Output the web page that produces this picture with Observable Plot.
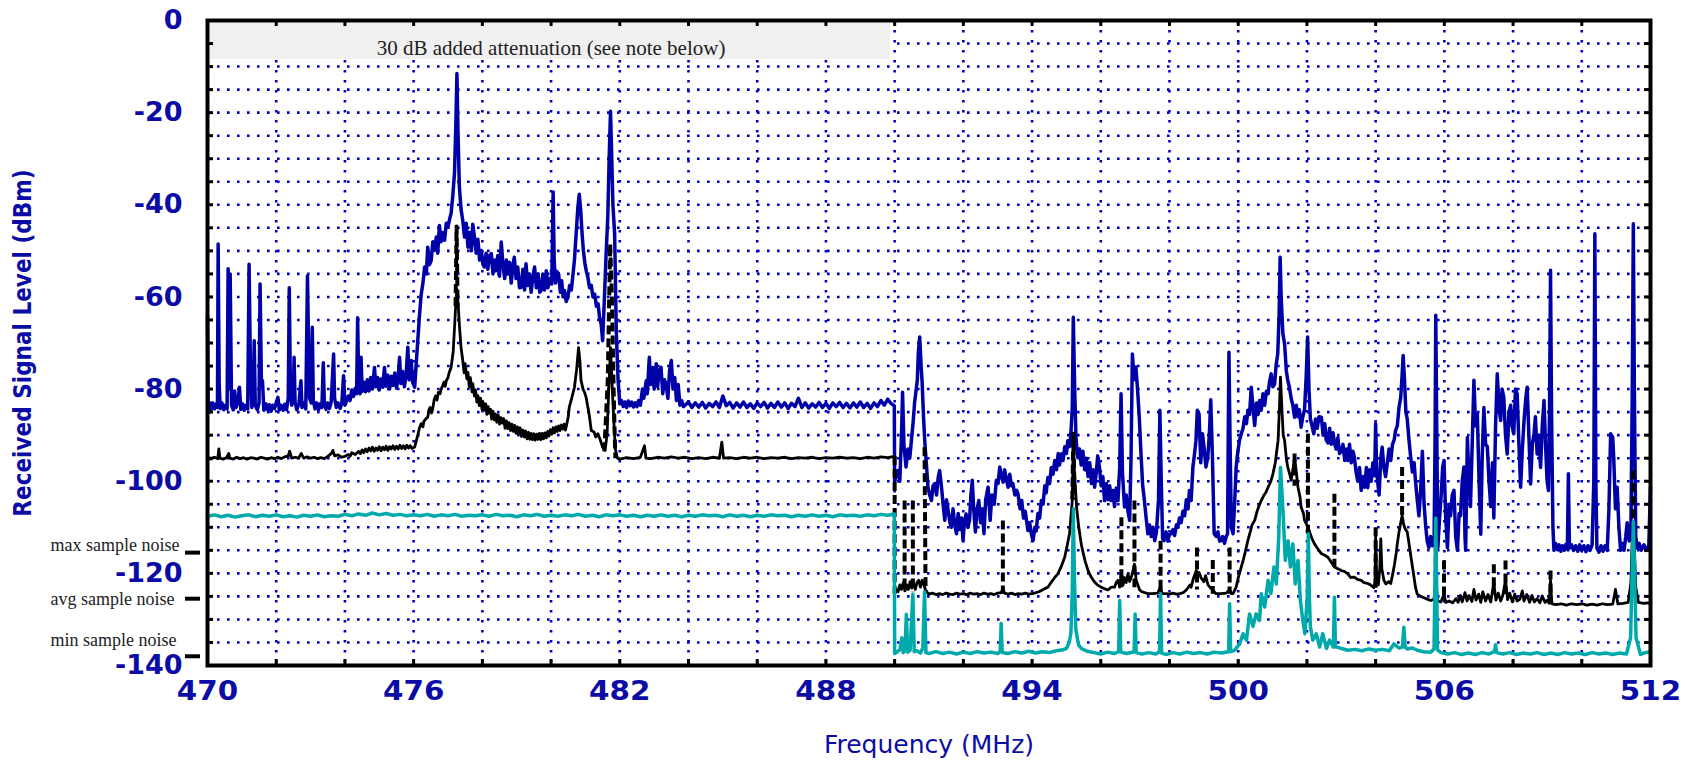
<!DOCTYPE html>
<html><head><meta charset="utf-8">
<script src="https://cdn.jsdelivr.net/npm/d3@7"></script>
<script src="https://cdn.jsdelivr.net/npm/@observablehq/plot@0.6"></script>
<style>html,body{margin:0;padding:0;background:#fff;}#chart svg{display:block}</style>
</head><body><div id="chart"></div>
<script>
// ---- tick / grid values ----
const xTickValues = [470, 476, 482, 488, 494, 500, 506, 512];
const xGridValues = [470, 472, 474, 476, 478, 480, 482, 484, 486, 488, 490, 492, 494, 496, 498, 500, 502, 504, 506, 508, 510, 512];
const yTickValues = [0, -20, -40, -60, -80, -100, -120, -140];
const yGridValues = [0, -5, -10, -15, -20, -25, -30, -35, -40, -45, -50, -55, -60, -65, -70, -75, -80, -85, -90, -95, -100, -105, -110, -115, -120, -125, -130, -135, -140];

// ---- max sample trace (blue), [MHz, dBm] ----
const maxSweep = [
[470.0,-64],[470.02,-84],[470.06,-83],[470.1,-84.5],[470.15,-83],[470.2,-84.3],[470.25,-83.2],[470.29,-84],[470.31,-48.5],[470.34,-79],[470.37,-84.2],[470.42,-83],[470.47,-84.5],[470.52,-83.5],[470.57,-84.3],[470.6,-53.9],[470.63,-80],[470.66,-55],[470.7,-83.5],[470.75,-84.5],[470.79,-80.4],[470.83,-84],[470.88,-83],[470.93,-79.6],[470.97,-84.4],[471.02,-83.2],[471.07,-84.6],[471.12,-83.5],[471.17,-84.3],[471.21,-52.9],[471.25,-76],[471.29,-84],[471.33,-82],[471.36,-69.5],[471.39,-83.5],[471.45,-84.5],[471.5,-83],[471.53,-57.2],[471.57,-79],[471.6,-78.2],[471.64,-84.6],[471.7,-83.2],[471.75,-84.5],[471.8,-83.4],[471.85,-84.8],[471.9,-83.5],[471.95,-84.2],[472.0,-83],[472.05,-81.8],[472.09,-84.5],[472.14,-83.5],[472.2,-84.6],[472.25,-83.3],[472.3,-84.5],[472.35,-82],[472.38,-58],[472.41,-78],[472.45,-83.5],[472.5,-82],[472.52,-73.1],[472.55,-83],[472.6,-84.5],[472.66,-83.2],[472.72,-78.2],[472.75,-84],[472.8,-83],[472.86,-84.3],[472.91,-55.4],[472.94,-70],[472.97,-82],[473.02,-83],[473.05,-66.6],[473.08,-82.5],[473.13,-84.3],[473.18,-83],[473.23,-84.5],[473.28,-83.2],[473.33,-84],[473.37,-74.3],[473.4,-83],[473.45,-84.4],[473.5,-83],[473.55,-84.2],[473.6,-82.8],[473.67,-72.4],[473.7,-82],[473.75,-84],[473.8,-83],[473.86,-84.2],[473.91,-83],[473.96,-77.1],[474.0,-83.5],[474.05,-82.5],[474.1,-81.5],[474.15,-82.5],[474.2,-80.2],[474.25,-81.6],[474.3,-79.8],[474.34,-81],[474.37,-64.5],[474.4,-79],[474.44,-81],[474.47,-73.1],[474.5,-80.5],[474.55,-78.5],[474.6,-80.6],[474.65,-78],[474.7,-80.4],[474.75,-77.5],[474.8,-80],[474.86,-75.3],[474.9,-79.5],[474.95,-77.5],[475.0,-80.2],[475.05,-77.8],[475.1,-79.6],[475.15,-75.3],[475.2,-79.4],[475.25,-77],[475.3,-80],[475.35,-77.2],[475.4,-79.2],[475.45,-76.5],[475.5,-79.8],[475.55,-77.5],[475.59,-73.1],[475.63,-78.8],[475.68,-76.2],[475.73,-79.5],[475.78,-77],[475.83,-70.9],[475.87,-78],[475.93,-73.8],[475.97,-78.5],[476.03,-79.6],[476.12,-69.5],[476.17,-64],[476.22,-59.4],[476.27,-57],[476.32,-53.5],[476.37,-55],[476.41,-49.2],[476.46,-53],[476.51,-52.1],[476.56,-48],[476.61,-49.9],[476.66,-47],[476.7,-50.5],[476.75,-44.5],[476.8,-48],[476.85,-46],[476.9,-47.7],[476.95,-44],[477.0,-44.8],[477.05,-43],[477.09,-41.9],[477.14,-38],[477.19,-33],[477.23,-22],[477.26,-11.5],[477.29,-24],[477.33,-36],[477.38,-41],[477.43,-43.4],[477.48,-47],[477.53,-44],[477.58,-49.2],[477.63,-46],[477.68,-50],[477.72,-44.2],[477.77,-47],[477.82,-50.5],[477.87,-47.5],[477.92,-52],[477.97,-49.9],[478.02,-53],[478.06,-53.5],[478.11,-50.5],[478.16,-54],[478.21,-51],[478.26,-50.6],[478.31,-55],[478.36,-52],[478.4,-54.3],[478.45,-51],[478.5,-55.5],[478.55,-48.1],[478.6,-53],[478.65,-56],[478.7,-52],[478.74,-55],[478.79,-52.5],[478.84,-57],[478.89,-53],[478.93,-51.4],[478.98,-56],[479.03,-53.5],[479.08,-58],[479.13,-57.9],[479.18,-54],[479.23,-58.5],[479.27,-52.8],[479.32,-57.5],[479.37,-55],[479.42,-59],[479.47,-55.5],[479.52,-53.5],[479.57,-58],[479.62,-55],[479.67,-59],[479.71,-58.6],[479.76,-55],[479.81,-58.5],[479.86,-54.3],[479.91,-58],[479.96,-56],[480.02,-57.2],[480.06,-37.2],[480.09,-52],[480.13,-57],[480.17,-54.5],[480.22,-55],[480.27,-59],[480.31,-56.5],[480.35,-60],[480.39,-58.6],[480.44,-61],[480.49,-60],[480.54,-57.5],[480.59,-58.5],[480.63,-55.7],[480.68,-52],[480.73,-46.3],[480.78,-40.5],[480.82,-37.7],[480.86,-41],[480.9,-46],[480.94,-49.9],[480.99,-53],[481.03,-54.5],[481.07,-55.7],[481.12,-58],[481.17,-57.5],[481.22,-60],[481.27,-59.4],[481.32,-62],[481.37,-61.5],[481.41,-64.4],[481.46,-66],[481.5,-69.5],[481.55,-60.8],[481.6,-51],[481.65,-42.7],[481.69,-30],[481.73,-19.7],[481.76,-28],[481.8,-40],[481.85,-46.3],[481.9,-68],[481.95,-78],[482.0,-83.2],
[482.05,-82.5],[482.1,-83.8],[482.15,-82.8],[482.2,-84],[482.25,-82.6],[482.3,-83.6],[482.35,-82.8],[482.4,-83.9],[482.45,-83],[482.5,-83.8],[482.55,-82.5],[482.6,-83.5],[482.66,-80],[482.7,-82],[482.77,-78.2],[482.8,-81],[482.86,-73.1],[482.9,-79],[482.96,-75.3],[483.0,-80],[483.06,-74.5],[483.1,-79.5],[483.15,-76],[483.2,-75.3],[483.25,-81],[483.3,-78],[483.35,-78.9],[483.4,-82],[483.45,-76],[483.5,-73.8],[483.55,-80],[483.6,-77.5],[483.65,-82.5],[483.7,-79],[483.75,-83.5],[483.8,-82.5],[483.85,-83.8],
[483.9,-83.5],[484.0,-82.8],[484.1,-84],[484.2,-83],[484.3,-83.9],[484.4,-82.9],[484.5,-84.1],[484.6,-83.1],[484.7,-83.8],[484.8,-82.8],[484.9,-84],[485.0,-81.5],[485.1,-83.6],[485.2,-82.9],[485.3,-84.1],[485.4,-83],[485.5,-83.9],[485.6,-82.8],[485.7,-84],[485.8,-83.2],[485.9,-84.2],[486.0,-83],[486.1,-83.8],[486.2,-82.9],[486.3,-84.1],[486.4,-83.1],[486.5,-84],[486.6,-82.8],[486.7,-83.9],[486.8,-83],[486.9,-84.2],[487.0,-83.1],[487.1,-83.8],[487.2,-82],[487.3,-84],[487.4,-83],[487.5,-84.1],[487.6,-83.2],[487.7,-83.9],[487.8,-82.9],[487.9,-84],[488.0,-83.1],[488.1,-84.2],[488.2,-83],[488.3,-83.8],[488.4,-82.9],[488.5,-84],[488.6,-83.1],[488.7,-84.1],[488.8,-83],[488.9,-83.9],[489.0,-82.8],[489.1,-84],[489.2,-83.1],[489.3,-84.2],[489.4,-83],[489.5,-83.8],[489.6,-82.5],[489.7,-83.5],[489.8,-82.2],[489.9,-83.2],[489.99,-83.6],
[490.0,-100.2],[490.05,-98.5],[490.1,-97.7],[490.15,-100],[490.2,-90],[490.23,-80.7],[490.27,-92],[490.33,-96.9],[490.39,-93],[490.44,-95],[490.49,-91],[490.54,-87],[490.58,-83],[490.62,-80.5],[490.66,-78.1],[490.69,-72],[490.73,-68.7],[490.77,-75],[490.8,-78.5],[490.84,-86],[490.88,-91.7],[490.93,-97],[490.97,-101.3],[491.02,-103],[491.07,-104.2],[491.12,-101],[491.17,-100.5],[491.22,-103],[491.27,-99],[491.31,-97.7],[491.36,-101],[491.41,-105],[491.46,-108.5],[491.51,-104],[491.56,-106.5],[491.61,-109],[491.65,-110],[491.7,-106],[491.75,-109.5],[491.8,-111.4],[491.85,-107],[491.9,-110.5],[491.95,-108],[491.99,-112.9],[492.03,-109],[492.08,-107.1],[492.13,-110],[492.18,-108.5],[492.22,-103],[492.26,-99.8],[492.3,-106],[492.35,-111],[492.4,-106],[492.45,-104.2],[492.5,-109],[492.55,-106],[492.6,-111.4],[492.65,-104],[492.72,-101.3],[492.78,-108.5],[492.83,-103],[492.9,-105],[492.96,-99.8],[493.01,-100.5],[493.06,-96.9],[493.11,-99],[493.16,-100.2],[493.2,-97.5],[493.25,-99.5],[493.3,-101.3],[493.35,-98.5],[493.4,-101],[493.44,-100.5],[493.5,-103],[493.55,-102],[493.59,-102.7],[493.65,-106],[493.7,-104.2],[493.75,-108],[493.8,-106.5],[493.88,-110.7],[493.93,-109],[493.98,-111.5],[494.03,-112.9],[494.08,-110],[494.12,-110.8],[494.17,-107],[494.22,-108],[494.27,-104.2],[494.32,-105],[494.37,-101],[494.41,-102.5],[494.46,-99.2],[494.51,-100.5],[494.56,-97],[494.61,-98.5],[494.66,-95.5],[494.71,-97.5],[494.76,-94],[494.8,-96.5],[494.85,-94.1],[494.9,-95.5],[494.95,-92.5],[495.0,-94],[495.04,-91.2],[495.09,-92.5],[495.13,-89.7],[495.17,-84],[495.2,-64.4],[495.24,-80],[495.28,-91],[495.33,-94.8],[495.38,-93],[495.43,-96.5],[495.48,-93.5],[495.53,-97.5],[495.58,-95],[495.63,-99],[495.68,-96],[495.73,-100.5],[495.78,-97.5],[495.82,-101.3],[495.87,-98],[495.91,-94.5],[495.96,-96.9],[496.01,-101],[496.06,-99],[496.11,-104.2],[496.16,-100.5],[496.21,-104],[496.26,-101],[496.3,-104.2],[496.35,-102],[496.4,-105.5],[496.45,-101.5],[496.5,-104.2],[496.55,-97],[496.59,-81],[496.63,-98],[496.69,-105.6],[496.74,-103],[496.79,-106.5],[496.84,-108.5],[496.88,-95],[496.92,-72.4],[496.97,-78],[497.02,-75.2],[497.07,-80],[497.12,-86.1],[497.17,-94],[497.22,-101],[497.27,-104.2],[497.32,-108],[497.37,-111.4],[497.42,-109.5],[497.47,-112],[497.52,-110],[497.57,-112.9],[497.62,-111],[497.68,-104],[497.72,-84.6],[497.76,-100],[497.8,-112.5],[497.84,-112.9],[497.9,-111],[497.95,-113],[498.0,-111.5],[498.05,-111.4],[498.1,-110.5],[498.15,-111.8],[498.2,-109.5],[498.24,-110],[498.29,-108],[498.34,-109],[498.39,-106.5],[498.44,-107.5],[498.49,-104],[498.54,-106],[498.58,-102],[498.63,-104.2],[498.68,-97],[498.73,-94],[498.77,-91.2],[498.81,-84.6],[498.86,-85.4],[498.91,-96],[498.96,-89.7],[499.01,-93],[499.06,-96.9],[499.11,-95],[499.16,-90],[499.2,-82.3],[499.25,-95],[499.3,-111.4],[499.36,-112],[499.41,-111],[499.46,-113],[499.5,-112.9],[499.55,-112],[499.6,-113.5],[499.65,-112],[499.69,-111.4],[499.71,-90],[499.73,-72],[499.76,-90],[499.8,-110],[499.85,-111.4],[499.9,-104],[499.94,-96.9],[499.99,-93.5],[500.04,-91],[500.09,-89.7],[500.14,-88.5],[500.19,-86],[500.24,-87.5],[500.28,-84.6],[500.33,-85.5],[500.38,-79.6],[500.43,-84],[500.48,-87.9],[500.53,-83],[500.58,-85.5],[500.62,-82.5],[500.67,-84.6],[500.72,-81],[500.77,-83.5],[500.82,-80.5],[500.87,-81],[500.91,-78.5],[500.96,-76.7],[501.01,-79.5],[501.06,-78.9],[501.1,-75],[501.15,-72.4],[501.19,-64],[501.22,-51.4],[501.25,-60],[501.3,-68],[501.35,-70.2],[501.4,-76],[501.44,-78],[501.49,-79.6],[501.54,-82],[501.59,-83.5],[501.64,-86.1],[501.69,-83.5],[501.74,-86],[501.78,-84.5],[501.83,-88.3],[501.88,-86],[501.93,-84.5],[501.98,-77],[502.02,-68.7],[502.06,-80],[502.1,-86.5],[502.15,-88],[502.2,-89.7],[502.25,-86.5],[502.3,-88.5],[502.35,-86],[502.42,-86.1],[502.47,-90],[502.52,-87.5],[502.56,-91],[502.61,-91.7],[502.66,-88.5],[502.71,-92],[502.76,-89.5],[502.8,-91.7],[502.85,-93],[502.9,-90.5],[502.95,-94],[503.0,-93.5],[503.05,-92],[503.1,-95.5],[503.15,-93],[503.19,-95.5],[503.24,-92],[503.29,-96],[503.34,-93.5],[503.38,-94.8],[503.43,-98],[503.48,-100],[503.53,-97],[503.58,-102],[503.63,-99],[503.68,-101.3],[503.73,-97],[503.77,-101.4],[503.82,-97.5],[503.87,-100],[503.92,-96],[503.97,-98.8],[504.0,-87.5],[504.03,-98],[504.1,-103],[504.15,-95],[504.19,-92.6],[504.24,-97],[504.29,-99],[504.34,-96],[504.39,-93],[504.44,-95.5],[504.49,-92],[504.54,-91],[504.58,-89],[504.63,-88],[504.68,-84],[504.73,-81.8],[504.77,-77],[504.8,-72.7],[504.84,-78],[504.88,-85],[504.92,-86.5],[504.97,-91],[505.02,-94.8],[505.07,-98],[505.12,-96],[505.16,-99.9],[505.21,-104],[505.26,-107.5],[505.31,-102],[505.36,-93.5],[505.41,-105],[505.46,-110],[505.5,-113],[505.55,-114.4],[505.6,-112],[505.65,-114],[505.7,-113.8],[505.73,-90],[505.75,-64],[505.78,-90],[505.81,-114.4],[505.86,-108],[505.9,-104],[505.95,-97],[505.99,-95.5],[506.04,-108],[506.09,-114.4],[506.14,-105],[506.18,-107.5],[506.23,-103],[506.28,-102],[506.33,-112],[506.38,-115],[506.43,-107],[506.47,-107.5],[506.52,-100],[506.57,-96.9],[506.6,-112],[506.62,-115],[506.67,-90.5],[506.72,-100],[506.76,-105.5],[506.81,-92],[506.86,-78.1],[506.91,-88],[506.96,-85.5],[507.01,-100],[507.06,-111.5],[507.1,-95],[507.15,-84],[507.2,-92],[507.25,-92.5],[507.3,-100],[507.35,-105.5],[507.4,-96],[507.44,-108],[507.49,-88],[507.54,-76.7],[507.59,-84],[507.64,-86.8],[507.68,-80],[507.73,-81.8],[507.78,-90],[507.83,-94.1],[507.88,-85],[507.93,-83.5],[507.97,-88],[508.02,-89.7],[508.07,-80],[508.12,-81.1],[508.17,-92],[508.22,-101.3],[508.27,-93],[508.32,-86.8],[508.37,-82],[508.41,-79.6],[508.46,-90],[508.51,-100.6],[508.56,-92],[508.61,-89.7],[508.65,-86],[508.7,-94.1],[508.75,-90],[508.8,-97],[508.85,-88],[508.9,-82.5],[508.95,-93],[508.99,-99.9],[509.03,-102],[509.06,-85],[509.09,-54.2],[509.12,-85],[509.16,-110],[509.19,-115],[509.24,-113.5],[509.29,-114.8],[509.34,-113.8],[509.39,-115.2],[509.44,-114],[509.49,-115],[509.54,-113.7],[509.58,-114.8],[509.61,-98.4],[509.64,-114.5],[509.7,-113.8],[509.76,-115],[509.82,-114],[509.88,-115.2],[509.94,-113.8],[510.0,-115],[510.06,-114],[510.12,-115.3],[510.18,-114],[510.24,-115],[510.3,-113.8],[510.35,-100],[510.38,-46.3],[510.41,-100],[510.44,-114.5],[510.5,-115.4],[510.56,-114],[510.62,-115.2],[510.68,-114],[510.74,-115],[510.79,-106],[510.84,-89.7],[510.9,-90.5],[510.93,-95],[510.98,-106],[511.03,-101.3],[511.08,-110],[511.13,-115],[511.18,-113.5],[511.23,-115],[511.28,-112],[511.32,-109],[511.38,-113],[511.43,-110],[511.47,-80],[511.5,-44.1],[511.53,-80],[511.57,-112],[511.61,-114.5],[511.67,-113.5],[511.73,-115],[511.81,-113.8],[511.87,-115],[511.95,-114],[512.0,-101.3]
];

// ---- average trace (black, solid): attenuated sweep 470-490 and plain sweep 490-512 ----
const avgSweepAttenuated = [
[470.0,-95],[470.1,-95.2],[470.2,-94.8],[470.3,-95.1],[470.33,-93],[470.36,-95],[470.45,-95.2],[470.55,-94.9],[470.62,-94],[470.65,-95],[470.75,-95.2],[470.85,-94.8],[470.95,-95.1],[471.05,-94.9],[471.15,-95.2],[471.25,-94.9],[471.35,-95],[471.45,-95.2],[471.55,-94.8],[471.65,-95],[471.75,-95.2],[471.85,-94.9],[471.95,-95.1],[472.05,-94.8],[472.15,-95.1],[472.25,-94.7],[472.35,-94.5],[472.39,-93.5],[472.45,-95],[472.55,-94.8],[472.65,-95],[472.73,-94],[472.8,-95],[472.9,-94.7],[473.0,-95],[473.1,-94.8],[473.2,-95.1],[473.3,-94.9],[473.4,-95.1],[473.5,-94.6],[473.6,-94],[473.65,-93.3],[473.7,-94.5],[473.8,-94.3],[473.9,-94.8],[474.0,-94.6],[474.1,-94.2],[474.15,-94.6],[474.2,-93.8],[474.3,-94.2],[474.4,-93.5],[474.45,-94],[474.5,-93.2],[474.55,-93.8],[474.6,-93],[474.65,-93.6],[474.7,-92.8],[474.75,-93.4],[474.8,-92.6],[474.85,-93.5],[474.9,-92.8],[474.95,-93.3],[475.0,-92.5],[475.05,-93.4],[475.1,-92.6],[475.15,-93.2],[475.2,-92.4],[475.25,-93.3],[475.3,-92.5],[475.35,-93],[475.4,-92.3],[475.45,-93.1],[475.5,-92.4],[475.55,-93],[475.6,-92.2],[475.65,-92.9],[475.7,-92.3],[475.75,-93],[475.8,-92.2],[475.85,-92.8],[475.9,-92.3],[475.95,-92.9],[476.03,-92.6],[476.12,-90],[476.17,-88.4],[476.22,-87.5],[476.27,-88.2],[476.3,-87],[476.36,-86.4],[476.41,-86.1],[476.45,-84.4],[476.48,-84],[476.52,-85.2],[476.55,-84.5],[476.6,-82.2],[476.64,-81.5],[476.68,-82.4],[476.72,-80.7],[476.77,-81],[476.8,-80],[476.85,-79.2],[476.88,-78.5],[476.92,-79.4],[476.95,-78.2],[477.0,-77.5],[477.03,-76.5],[477.09,-75.3],[477.15,-72],[477.19,-66.6],[477.23,-61],[477.26,-58.4],[477.3,-62],[477.33,-66],[477.38,-71],[477.43,-73.8],[477.47,-76.5],[477.5,-74.5],[477.55,-77.8],[477.58,-76.4],[477.62,-79.5],[477.65,-77.5],[477.7,-80.6],[477.72,-78.8],[477.77,-81.5],[477.8,-80.2],[477.84,-82.8],[477.87,-81.4],[477.91,-83.6],[477.95,-82],[477.99,-84.4],[478.02,-82.8],[478.06,-84.6],[478.1,-83.2],[478.13,-85.5],[478.17,-83.8],[478.2,-85.2],[478.24,-84.4],[478.27,-86.5],[478.31,-84.8],[478.35,-86.7],[478.38,-85.4],[478.42,-87.2],[478.46,-85.6],[478.5,-87.6],[478.54,-86.2],[478.58,-87.4],[478.62,-86.4],[478.66,-88.5],[478.7,-86.9],[478.74,-88.6],[478.78,-87.3],[478.82,-89],[478.86,-87.6],[478.9,-89.2],[478.94,-87.9],[478.98,-89.6],[479.02,-88.2],[479.06,-89.8],[479.1,-88.4],[479.14,-90.3],[479.18,-88.9],[479.22,-90.4],[479.26,-89.1],[479.3,-90.8],[479.34,-89.4],[479.38,-90.9],[479.42,-89.6],[479.46,-91],[479.5,-89.7],[479.54,-91.1],[479.58,-89.8],[479.62,-90.9],[479.66,-89.6],[479.7,-91],[479.74,-89.6],[479.78,-90.8],[479.82,-89.5],[479.86,-90.6],[479.9,-89.2],[479.94,-90.2],[479.98,-88.8],[480.02,-89.8],[480.06,-88.4],[480.1,-89.5],[480.14,-88.2],[480.18,-89.2],[480.22,-88],[480.26,-89],[480.3,-87.8],[480.34,-88.7],[480.38,-87.6],[480.42,-88.9],[480.46,-87.5],[480.5,-86],[480.53,-83.9],[480.6,-82],[480.68,-79.6],[480.74,-76],[480.8,-71],[480.84,-74],[480.87,-78],[480.93,-80],[480.98,-80.8],[481.02,-81.8],[481.06,-83.5],[481.1,-85],[481.17,-89],[481.25,-89.3],[481.3,-90.4],[481.36,-89.7],[481.43,-91],[481.5,-92.6],[481.57,-93.3],[481.63,-90],[481.68,-80],[481.73,-71],[481.77,-78],[481.82,-86],[481.87,-93],[481.93,-95],[482.0,-95.2],
[482.2,-94.9],[482.4,-95.1],[482.6,-94.8],[482.72,-92.3],[482.76,-95],[482.9,-95.1],[483.1,-94.8],[483.3,-95],[483.5,-94.7],[483.7,-95],[483.9,-94.8],[484.1,-95.1],[484.3,-94.9],[484.5,-95.1],[484.7,-94.8],[484.9,-95],[484.97,-91.5],[485.02,-95],[485.2,-94.9],[485.4,-95.1],[485.6,-94.8],[485.8,-95],[486.0,-94.8],[486.2,-95.1],[486.4,-94.9],[486.6,-95],[486.8,-94.8],[487.0,-95.1],[487.2,-94.9],[487.4,-95],[487.6,-94.8],[487.8,-95.1],[488.0,-94.9],[488.2,-95],[488.4,-94.8],[488.6,-95],[488.8,-94.9],[489.0,-95.1],[489.2,-94.8],[489.4,-95],[489.6,-94.7],[489.8,-94.9],[489.99,-94.6]
];
const avgSweep = [
[490.0,-124.4],[490.05,-123.5],[490.1,-124],[490.15,-122.5],[490.2,-123.5],[490.25,-122],[490.3,-123.8],[490.35,-122.5],[490.4,-123.5],[490.45,-121.8],[490.5,-123.2],[490.55,-122],[490.6,-123.5],[490.65,-122],[490.7,-121.5],[490.75,-123],[490.8,-121.5],[490.85,-122.5],[490.9,-123.6],[490.95,-124.2],[491.0,-124.5],[491.1,-124.3],[491.2,-124.6],[491.3,-124.4],[491.4,-124.6],[491.5,-124.3],[491.6,-124.5],[491.7,-124.6],[491.8,-124.3],[491.9,-124.5],[492.0,-124.4],[492.1,-124.6],[492.2,-124.3],[492.3,-124.5],[492.4,-124.4],[492.5,-124.6],[492.6,-124.3],[492.7,-124.5],[492.8,-124.4],[492.9,-124.6],[493.0,-124.3],[493.1,-124.2],[493.15,-123.3],[493.2,-124.3],[493.3,-124.5],[493.4,-124.3],[493.5,-124.6],[493.6,-124.4],[493.7,-124.5],[493.8,-124.3],[493.9,-124.5],[494.0,-124.4],[494.07,-124.3],[494.2,-124],[494.3,-123.6],[494.4,-123.2],[494.46,-123],[494.55,-122],[494.65,-121],[494.75,-120.1],[494.85,-118.5],[494.95,-116.5],[495.02,-114],[495.09,-111.4],[495.14,-107],[495.17,-104.2],[495.2,-91],[495.24,-99],[495.3,-106],[495.36,-110],[495.43,-113.6],[495.5,-116],[495.55,-117.5],[495.63,-119.4],[495.72,-120.8],[495.82,-121.9],[495.9,-122.5],[496.01,-123],[496.1,-123.3],[496.21,-123.6],[496.3,-123],[496.4,-123],[496.45,-122],[496.5,-121.5],[496.55,-123],[496.6,-120],[496.65,-122.5],[496.69,-120.9],[496.74,-122],[496.79,-120.1],[496.84,-121.8],[496.9,-120.5],[496.95,-119],[496.98,-118],[497.03,-121.5],[497.08,-122.5],[497.13,-123.6],[497.2,-124],[497.37,-124.4],[497.5,-124.4],[497.66,-124.3],[497.74,-122.8],[497.78,-124.4],[497.9,-124.4],[498.0,-124.5],[498.1,-124.3],[498.2,-124.5],[498.3,-124.4],[498.4,-124.2],[498.5,-123.5],[498.6,-122.5],[498.63,-123],[498.7,-121],[498.78,-119.4],[498.82,-120.5],[498.86,-119.8],[498.92,-121],[499.0,-121.8],[499.05,-120.5],[499.12,-122.5],[499.2,-123.2],[499.26,-123.6],[499.35,-124.4],[499.5,-124.4],[499.65,-124.3],[499.75,-123.5],[499.8,-124.4],[499.85,-124.4],[499.94,-123],[500.0,-121],[500.09,-118.6],[500.15,-117],[500.2,-115.5],[500.28,-112.9],[500.35,-111],[500.4,-109.5],[500.48,-108.5],[500.55,-106.5],[500.6,-105.5],[500.67,-104.2],[500.75,-103],[500.8,-102.5],[500.87,-101.3],[500.95,-100],[501.01,-98.4],[501.08,-96],[501.12,-93.5],[501.16,-91.2],[501.2,-84],[501.23,-77.4],[501.27,-84],[501.31,-90],[501.35,-91.2],[501.4,-95],[501.44,-96.9],[501.5,-98.5],[501.54,-99.8],[501.6,-97],[501.64,-94.8],[501.69,-98],[501.74,-101.3],[501.8,-103.5],[501.83,-105.6],[501.9,-107],[501.93,-108.5],[502.0,-109.5],[502.03,-109.9],[502.1,-111.5],[502.15,-112.5],[502.22,-113.6],[502.3,-114.5],[502.42,-115.7],[502.5,-116],[502.61,-116.5],[502.7,-117.5],[502.8,-118.6],[502.9,-119],[503.0,-119.4],[503.1,-119.6],[503.19,-120.1],[503.27,-120.9],[503.38,-120.8],[503.47,-121.3],[503.58,-121.5],[503.66,-122],[503.77,-122.2],[503.85,-122.5],[503.95,-123.1],[503.98,-122],[504.0,-112],[504.03,-121],[504.08,-122.5],[504.12,-119],[504.15,-112.5],[504.18,-119],[504.24,-121.5],[504.3,-122.3],[504.38,-121.8],[504.44,-122.2],[504.5,-120],[504.55,-118],[504.6,-115.5],[504.63,-113.6],[504.68,-111],[504.73,-109],[504.77,-107.5],[504.82,-109.5],[504.87,-110.5],[504.92,-111],[504.97,-113.5],[505.02,-116],[505.07,-118.5],[505.12,-121],[505.16,-123],[505.21,-124.5],[505.31,-125],[505.41,-125.3],[505.5,-125.6],[505.6,-125.9],[505.7,-125.6],[505.75,-120.5],[505.8,-126],[505.9,-126.2],[505.99,-124.5],[506.04,-126.3],[506.14,-126],[506.24,-126.4],[506.34,-125.5],[506.4,-126.3],[506.47,-124.8],[506.52,-126.2],[506.6,-124.2],[506.66,-126],[506.72,-124.8],[506.8,-126.1],[506.86,-123.5],[506.92,-125.8],[507.0,-124.5],[507.06,-126.3],[507.12,-124],[507.2,-126],[507.27,-124.6],[507.35,-126.2],[507.44,-122],[507.5,-125.8],[507.57,-124.3],[507.64,-126],[507.7,-124.8],[507.78,-121.5],[507.84,-125.7],[507.9,-124.3],[507.98,-126.2],[508.05,-124.5],[508.12,-126],[508.2,-125.6],[508.27,-123.8],[508.32,-126],[508.4,-124.6],[508.48,-126.3],[508.55,-124.8],[508.62,-126.2],[508.7,-125.5],[508.78,-126.4],[508.85,-124.9],[508.93,-126.3],[509.0,-125.8],[509.05,-126.5],[509.09,-121.5],[509.13,-126.6],[509.25,-126.8],[509.4,-126.6],[509.55,-126.9],[509.7,-126.6],[509.85,-126.8],[510.0,-126.6],[510.15,-126.9],[510.3,-126.7],[510.45,-126.9],[510.6,-126.6],[510.75,-126.8],[510.9,-126.7],[510.98,-123.5],[511.05,-126.6],[511.2,-126.5],[511.35,-126.3],[511.43,-122],[511.47,-112],[511.5,-110],[511.53,-114],[511.57,-123],[511.65,-126.3],[511.8,-126.5],[511.9,-126.4],[512.0,-126.5]
];

// ---- average trace, dashed excursions ----
const avgDashedSpikes = [
[[477.22,-62],[477.25,-44.7],[477.28,-62]],
[[481.55,-93.5],[481.65,-78],[481.72,-48.5],[481.77,-60],[481.82,-80],[481.87,-95]],
[[490.0,-94.5],[490.0,-124.4]],
[[490.29,-104.2],[490.29,-124]],
[[490.53,-104.2],[490.53,-124]],
[[490.87,-92.6],[490.9,-124]],
[[493.15,-108.5],[493.15,-124.4]],
[[495.17,-104],[495.2,-89.7],[495.24,-104]],
[[496.6,-107.8],[496.6,-123]],
[[496.98,-104.2],[496.98,-123]],
[[497.74,-112.9],[497.74,-124.4]],
[[498.8,-114.4],[498.8,-123.5]],
[[499.26,-117.1],[499.26,-124.4]],
[[499.75,-114.4],[499.75,-124.4]],
[[501.64,-94],[501.64,-101]],
[[502.03,-89.7],[502.03,-111.4]],
[[502.8,-102.7],[502.8,-118.6]],
[[504.0,-110],[504.0,-123.1]],
[[504.77,-96.9],[504.77,-108.6]],
[[505.75,-110.7],[505.75,-125.9]],
[[505.99,-117.2],[505.99,-125.9]],
[[507.44,-118],[507.44,-124.5]],
[[507.78,-117.2],[507.78,-124.5]],
[[509.09,-119.4],[509.09,-126]],
[[511.5,-97.6],[511.5,-115.8]]
];

// ---- min sample trace (teal) ----
const minSweep = [
[470.0,-107.6],[470.2,-107.3],[470.4,-107.7],[470.6,-107.4],[470.8,-107.8],[471.0,-107.5],[471.2,-107.3],[471.4,-107.7],[471.6,-107.4],[471.8,-107.6],[472.0,-107.3],[472.2,-107.7],[472.4,-107.5],[472.6,-107.8],[472.8,-107.4],[473.0,-107.6],[473.2,-107.3],[473.4,-107.7],[473.6,-107.5],[473.8,-107.6],[474.0,-107.2],[474.2,-107.5],[474.4,-107.1],[474.6,-107.4],[474.8,-106.9],[475.0,-107.3],[475.2,-107.0],[475.4,-107.4],[475.6,-107.2],[475.8,-107.5],[476.0,-107.3],[476.2,-107.5],[476.4,-107.2],[476.6,-107.6],[476.8,-107.3],[477.0,-107.5],[477.2,-107.2],[477.4,-107.6],[477.6,-107.4],[477.8,-107.5],[478.0,-107.3],[478.2,-107.6],[478.4,-107.2],[478.6,-107.5],[478.8,-107.4],[479.0,-107.7],[479.2,-107.3],[479.4,-107.5],[479.6,-107.2],[479.8,-107.6],[480.0,-107.4],[480.2,-107.6],[480.4,-107.3],[480.6,-107.5],[480.8,-107.2],[481.0,-107.6],[481.2,-107.4],[481.4,-107.7],[481.6,-107.3],[481.8,-107.5],[482.0,-107.3],[482.2,-107.6],[482.4,-107.4],[482.6,-107.7],[482.8,-107.4],[483.0,-107.6],[483.2,-107.3],[483.4,-107.6],[483.6,-107.4],[483.8,-107.7],[484.0,-107.4],[484.2,-107.6],[484.4,-107.3],[484.6,-107.5],[484.8,-107.4],[485.0,-107.7],[485.2,-107.3],[485.4,-107.6],[485.6,-107.4],[485.8,-107.7],[486.0,-107.4],[486.2,-107.6],[486.4,-107.3],[486.6,-107.5],[486.8,-107.4],[487.0,-107.7],[487.2,-107.4],[487.4,-107.6],[487.6,-107.3],[487.8,-107.6],[488.0,-107.4],[488.2,-107.7],[488.4,-107.3],[488.6,-107.5],[488.8,-107.4],[489.0,-107.6],[489.2,-107.3],[489.4,-107.5],[489.6,-107.2],[489.8,-107.4],[489.99,-107.1],
[490.0,-137.4],[490.08,-137],[490.15,-136.6],[490.21,-134],[490.25,-137.2],[490.3,-136.8],[490.34,-128.9],[490.38,-137.1],[490.45,-136.7],[490.53,-124.5],[490.57,-137],[490.65,-136.8],[490.75,-137.3],[490.82,-136.2],[490.87,-124],[490.91,-137.2],[491.0,-137.4],[491.2,-137],[491.4,-137.4],[491.6,-137.1],[491.8,-137.5],[492.0,-137.1],[492.2,-137.4],[492.4,-137],[492.6,-137.3],[492.8,-137.1],[493.0,-137.4],[493.07,-137],[493.1,-130.9],[493.13,-137.2],[493.3,-137.4],[493.5,-137],[493.7,-137.3],[493.9,-136.9],[494.1,-137.3],[494.3,-137],[494.5,-137.2],[494.7,-136.8],[494.9,-136.6],[495.0,-136.3],[495.08,-135],[495.13,-133],[495.17,-124],[495.2,-106],[495.23,-120],[495.27,-132],[495.35,-135.5],[495.45,-136.4],[495.6,-136.9],[495.8,-137.2],[496.0,-137.5],[496.2,-137.1],[496.4,-137.4],[496.52,-137],[496.55,-125.9],[496.58,-137.1],[496.75,-137.4],[496.97,-137],[497.0,-128.8],[497.03,-137.2],[497.2,-137.5],[497.4,-137.2],[497.6,-137.5],[497.71,-137],[497.74,-124.4],[497.77,-137.3],[497.9,-137.6],[498.1,-137.2],[498.3,-137.5],[498.5,-137.1],[498.7,-137.4],[498.9,-137.2],[499.1,-137.5],[499.3,-137.1],[499.5,-137.3],[499.72,-137],[499.75,-126.6],[499.78,-137],[499.89,-136.7],[500.04,-135.3],[500.14,-133.1],[500.24,-134.5],[500.33,-128.8],[500.43,-131.5],[500.52,-128.8],[500.62,-130.2],[500.67,-124.4],[500.77,-127.3],[500.87,-121.5],[500.95,-124.4],[501.04,-118.6],[501.11,-122.3],[501.18,-112],[501.23,-97],[501.3,-106],[501.37,-117.2],[501.45,-112.9],[501.52,-118.6],[501.59,-113.6],[501.66,-122.3],[501.74,-117.2],[501.81,-125.9],[501.88,-130.2],[501.94,-133.1],[502.01,-125],[502.04,-111.4],[502.07,-125],[502.1,-131.6],[502.17,-134.5],[502.27,-133.1],[502.37,-136],[502.46,-133.1],[502.57,-136.3],[502.66,-134.5],[502.77,-136],[502.8,-125.2],[502.83,-136],[502.88,-136],[503.0,-136.3],[503.2,-136.7],[503.4,-136.5],[503.6,-136.8],[503.8,-136.4],[504.0,-136.7],[504.2,-136.5],[504.4,-136.8],[504.53,-135.3],[504.68,-136.2],[504.78,-136],[504.82,-131.7],[504.86,-136],[504.92,-136.4],[505.07,-136.2],[505.21,-136.7],[505.4,-137],[505.6,-137.1],[505.7,-136.4],[505.75,-108],[505.8,-136.6],[505.9,-137.2],[506.1,-137.5],[506.3,-137.2],[506.5,-137.6],[506.7,-137.3],[506.9,-137.6],[507.1,-137.2],[507.3,-137.5],[507.46,-137],[507.49,-135.5],[507.52,-137.2],[507.7,-137.5],[507.9,-137.2],[508.1,-137.6],[508.3,-137.3],[508.5,-137.5],[508.7,-137.2],[508.9,-137.6],[509.1,-137.3],[509.3,-137.6],[509.5,-137.2],[509.7,-137.5],[509.9,-137.3],[510.1,-137.6],[510.3,-137.2],[510.5,-137.5],[510.7,-137.3],[510.9,-137.6],[511.1,-137.3],[511.3,-137.5],[511.42,-134],[511.47,-118],[511.5,-108.8],[511.53,-118],[511.58,-134],[511.71,-137.6],[511.85,-137.2],[512.0,-137]
];

// ---- annotations ----
const noiseLevels = [-115.5, -125.5, -138];
const noiseLabels = ["max sample noise", "avg sample noise", "min sample noise"];
const noiseMarkers = noiseLevels.map((level, i) => ({level, label: noiseLabels[i]}));
const attenuationNote = [{from: 470, to: 490, text: "30 dB added attenuation (see note below)"}];
const xTitle = ["Frequency (MHz)"];
const yTitle = ["Received Signal Level (dBm)"];

const BLUE_TEXT = "#0b0ba6";
const dashedRows = avgDashedSpikes.flatMap((seg, i) => seg.map(p => ({f: p[0], v: p[1], seg: i})));
const labelStyle = {frameAnchor: "left", dx: -157, textAnchor: "start", lineAnchor: "bottom", fontFamily: "Liberation Serif", fontSize: 18, fill: "#222"};

const chart = Plot.plot({
  width: 1685, height: 761,
  marginLeft: 207, marginRight: 35, marginTop: 20, marginBottom: 96,
  style: {background: "white", overflow: "visible", fontFamily: "DejaVu Sans"},
  x: {domain: [470, 512]},
  y: {domain: [-140, 0]},
  marks: [
    Plot.gridY(yGridValues, {stroke: "#0000c8", strokeOpacity: 1, strokeWidth: 2.6, strokeDasharray: "2.6,7.4"}),
    Plot.gridX(xGridValues, {stroke: "#0000c8", strokeOpacity: 1, strokeWidth: 2.6, strokeDasharray: "2.6,7.4"}),
    Plot.rect(attenuationNote, {x1: "from", x2: "to", fill: "#f0f0f0", insetTop: 3, insetBottom: 606, insetLeft: 3, insetRight: 4}),
    Plot.text(attenuationNote, {x: d => (d.from + d.to) / 2, text: "text", frameAnchor: "top", dy: 34, textAnchor: "middle", lineAnchor: "bottom", fontFamily: "Liberation Serif", fontSize: 21, fill: "#222", ariaLabel: "note"}),
    Plot.line(maxSweep, {stroke: "#0000a8", strokeWidth: 3.5}),
    Plot.line(avgSweepAttenuated, {stroke: "#000", strokeWidth: 2.8}),
    Plot.line(avgSweep, {stroke: "#000", strokeWidth: 2.8}),
    Plot.line(dashedRows, {x: "f", y: "v", z: "seg", stroke: "#000", strokeWidth: 4, strokeDasharray: "9,4", strokeLinecap: "butt"}),
    Plot.line(minSweep, {stroke: "#00aaaa", strokeWidth: 3.5}),
    // small inward ticks on the frame
    Plot.tickY(yGridValues, {stroke: "#000", strokeWidth: 3, insetRight: 1437}),
    Plot.tickY(yGridValues, {stroke: "#000", strokeWidth: 3, insetLeft: 1437}),
    Plot.tickX(xGridValues, {stroke: "#000", strokeWidth: 3, insetTop: 639}),
    Plot.tickX(xGridValues, {stroke: "#000", strokeWidth: 3, insetBottom: 639}),
    Plot.frame({stroke: "#000", strokeWidth: 4}),
    // axes
    Plot.axisX(xTickValues, {tickSize: 0, tickPadding: 15, label: null, tickFormat: d => String(d), fontSize: 27, fontWeight: "bold", fontFamily: "DejaVu Sans", fill: BLUE_TEXT}),
    Plot.axisY(yTickValues, {tickSize: 0, tickPadding: 25, label: null, tickFormat: d => String(d), fontSize: 27, fontWeight: "bold", fontFamily: "DejaVu Sans", fill: BLUE_TEXT}),
    Plot.text(xTitle, {text: d => d, frameAnchor: "bottom", dy: 87, lineAnchor: "bottom", fontSize: 25, fontFamily: "DejaVu Sans", fill: BLUE_TEXT, ariaLabel: "xtitle"}),
    Plot.text(yTitle, {text: d => d, frameAnchor: "left", dx: -177, rotate: -90, textAnchor: "middle", lineAnchor: "bottom", fontSize: 24, fontWeight: "bold", fontFamily: "'Liberation Sans Narrow', 'DejaVu Sans Condensed', 'Liberation Sans', sans-serif", fill: BLUE_TEXT, ariaLabel: "ytitle"}),
    // noise reference markers
    Plot.tickY(noiseMarkers, {y: "level", stroke: "#000", strokeWidth: 4, insetRight: 1428, dx: -22}),
    Plot.text(noiseMarkers.slice(0, 1), {y: "level", text: "label", dy: -2, ...labelStyle}),
    Plot.text(noiseMarkers.slice(1, 2), {y: "level", text: "label", dy: 6, ...labelStyle}),
    Plot.text(noiseMarkers.slice(2), {y: "level", text: "label", dy: -10, ...labelStyle})
  ]
});
document.getElementById("chart").append(chart);

function stretch(label, len) {
  const t = chart.querySelector(`g[aria-label="${label}"] text`);
  if (t) { t.setAttribute("textLength", len); t.setAttribute("lengthAdjust", "spacingAndGlyphs"); }
}
stretch("xtitle", 294);
stretch("ytitle", 304);
stretch("note", 355);
chart.querySelectorAll('g[aria-label="x-axis tick label"] text').forEach(t => {
  const tr = t.getAttribute("transform");
  if (tr) t.setAttribute("transform", tr + " scale(1.09,1)");
});
</script>
</body></html>
